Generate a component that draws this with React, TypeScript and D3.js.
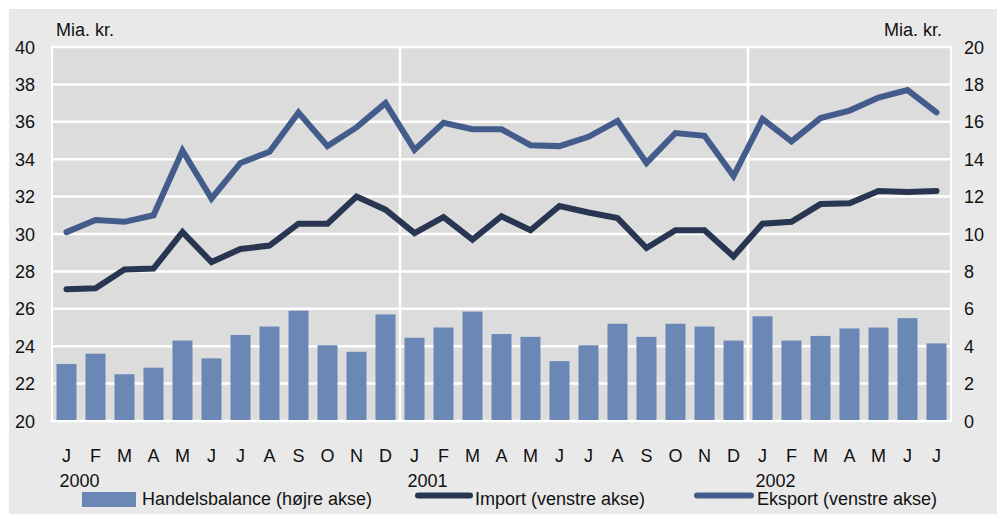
import * as d3 from "d3";
import { useEffect, useRef } from "react";

// month letters and year labels
const months = [
  "J", "F", "M", "A", "M", "J", "J", "A", "S", "O", "N", "D",
  "J", "F", "M", "A", "M", "J", "J", "A", "S", "O", "N", "D",
  "J", "F", "M", "A", "M", "J", "J",
];
const years = [
  { label: "2000", index: 0 },
  { label: "2001", index: 12 },
  { label: "2002", index: 24 },
];

// Mia. kr.
const eksport = [
  30.1, 30.75, 30.65, 31.0, 34.45, 31.9, 33.8, 34.4, 36.5, 34.7, 35.7, 37.0,
  34.5, 35.95, 35.6, 35.6, 34.75, 34.7, 35.2, 36.05, 33.8, 35.4, 35.25, 33.1,
  36.15, 34.95, 36.2, 36.6, 37.3, 37.7, 36.5,
];
const importSeries = [
  27.05, 27.1, 28.1, 28.15, 30.1, 28.5, 29.2, 29.38, 30.55, 30.55, 32.0, 31.3,
  30.05, 30.9, 29.7, 30.95, 30.2, 31.5, 31.15, 30.85, 29.25, 30.2, 30.2, 28.8,
  30.55, 30.65, 31.6, 31.65, 32.3, 32.25, 32.3,
];
const handelsbalance = [
  3.05, 3.6, 2.5, 2.85, 4.3, 3.35, 4.6, 5.05, 5.9, 4.05, 3.7, 5.7,
  4.45, 5.0, 5.85, 4.65, 4.5, 3.2, 4.05, 5.2, 4.5, 5.2, 5.05, 4.3,
  5.6, 4.3, 4.55, 4.95, 5.0, 5.5, 4.15,
];
const leftTicks = [20, 22, 24, 26, 28, 30, 32, 34, 36, 38, 40];
const rightTicks = [0, 2, 4, 6, 8, 10, 12, 14, 16, 18, 20];

const App = () => {
  const ref = useRef<SVGSVGElement>(null);

  useEffect(() => {
    document.body.style.margin = "0";
    const svg = d3.select(ref.current);
    svg.selectAll("*").remove();

    const font = "'Liberation Sans', Arial, sans-serif";
    const colors = {
      outer: "#e9e9e9",
      plot: "#dcdcdc",
      bar: "#6b87b6",
      eksport: "#435c8b",
      import: "#283651",
    };

    // plot box
    const left = 52;
    const right = 951;
    const top = 47;
    const bottom = 421;

    const x = d3
      .scaleBand<number>()
      .domain(d3.range(months.length))
      .range([left, right])
      .paddingInner(0.31)
      .paddingOuter(0.155);
    const yLeft = d3.scaleLinear().domain([20, 40]).range([bottom, top]);
    const yRight = d3.scaleLinear().domain([0, 20]).range([bottom, top]);
    const cx = (i: number) => x(i)! + x.bandwidth() / 2;
    const step = x.step();

    // backgrounds
    svg.append("rect").attr("width", 997).attr("height", 514).attr("fill", "#fff");
    svg
      .append("rect")
      .attr("x", 9)
      .attr("y", 9)
      .attr("width", 988)
      .attr("height", 505)
      .attr("fill", colors.outer);
    svg
      .append("rect")
      .attr("x", left)
      .attr("y", top)
      .attr("width", right - left)
      .attr("height", bottom - top)
      .attr("fill", colors.plot)
      .attr("stroke", "#fff")
      .attr("stroke-width", 2);

    // gridlines
    svg
      .append("g")
      .selectAll("line")
      .data(leftTicks)
      .enter()
      .append("line")
      .attr("x1", left)
      .attr("x2", right)
      .attr("y1", (d) => yLeft(d))
      .attr("y2", (d) => yLeft(d))
      .attr("stroke", "#fff")
      .attr("stroke-width", 2.5);
    // year separators
    svg
      .append("g")
      .selectAll("line")
      .data(years.slice(1))
      .enter()
      .append("line")
      .attr("x1", (d) => x(d.index)! - (step - x.bandwidth()) / 2)
      .attr("x2", (d) => x(d.index)! - (step - x.bandwidth()) / 2)
      .attr("y1", top)
      .attr("y2", bottom)
      .attr("stroke", "#fff")
      .attr("stroke-width", 2.5);

    // bars
    svg
      .append("g")
      .selectAll("rect")
      .data(handelsbalance)
      .enter()
      .append("rect")
      .attr("x", (_, i) => x(i)!)
      .attr("y", (d) => yRight(d))
      .attr("width", x.bandwidth())
      .attr("height", (d) => yRight(0) - yRight(d) - 1)
      .attr("fill", colors.bar);

    // lines
    const line = d3
      .line<number>()
      .x((_, i) => cx(i))
      .y((d) => yLeft(d));
    const drawLine = (data: number[], color: string) => {
      svg
        .append("path")
        .datum(data)
        .attr("d", line)
        .attr("fill", "none")
        .attr("stroke", color)
        .attr("stroke-width", 6)
        .attr("stroke-linecap", "round")
        .attr("stroke-linejoin", "miter");
    };
    drawLine(importSeries, colors.import);
    drawLine(eksport, colors.eksport);

    const text = (
      tx: number,
      ty: number,
      s: string,
      anchor = "start"
    ) =>
      svg
        .append("text")
        .attr("x", tx)
        .attr("y", ty)
        .attr("text-anchor", anchor)
        .attr("font-family", font)
        .attr("font-size", 18)
        .attr("fill", "#111")
        .text(s);

    // axes labels
    leftTicks.forEach((t) => text(35, yLeft(t) + 6.5, String(t), "end"));
    rightTicks.forEach((t) => text(964, yRight(t) + 6.5, String(t)));
    text(56, 36, "Mia. kr.");
    text(942, 36, "Mia. kr.", "end");

    months.forEach((m, i) => text(cx(i), 462, m, "middle"));
    years.forEach((yr) =>
      text(x(yr.index)! + 3, 487, yr.label)
    );

    // legend
    svg
      .append("rect")
      .attr("x", 82)
      .attr("y", 492)
      .attr("width", 54)
      .attr("height", 15)
      .attr("fill", colors.bar);
    text(142, 505, "Handelsbalance (højre akse)");
    const legendLine = (x1: number, x2: number, color: string) =>
      svg
        .append("line")
        .attr("x1", x1)
        .attr("x2", x2)
        .attr("y1", 495.5)
        .attr("y2", 495.5)
        .attr("stroke", color)
        .attr("stroke-width", 6)
        .attr("stroke-linecap", "round");
    legendLine(418, 470, colors.import);
    text(475, 505, "Import (venstre akse)");
    legendLine(697, 751, colors.eksport);
    text(757, 505, "Eksport (venstre akse)");
  }, []);

  return (
    <svg
      ref={ref}
      width={997}
      height={514}
      style={{ position: "absolute", left: 0, top: 0, display: "block" }}
    ></svg>
  );
};

export default App;
